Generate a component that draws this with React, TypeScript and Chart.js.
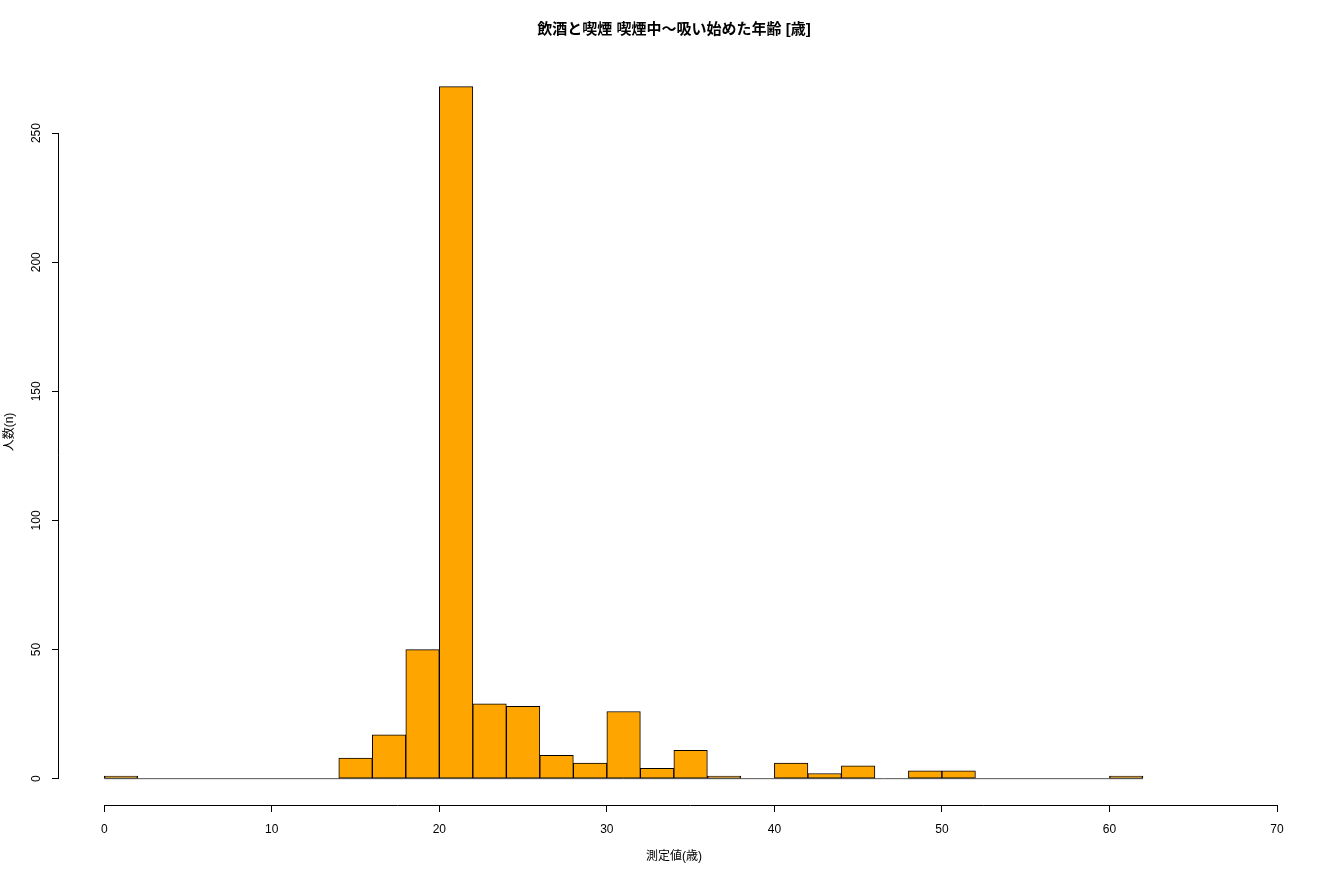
import React, { useEffect, useRef } from "react";
import { Chart, registerables } from "chart.js";

Chart.register(...registerables);

const FONT = "'Liberation Sans', 'Noto Sans CJK JP', sans-serif";

const binStarts = [0, 2, 4, 6, 8, 10, 12, 14, 16, 18, 20, 22, 24, 26, 28, 30, 32, 34, 36, 38, 40, 42, 44, 46, 48, 50, 52, 54, 56, 58, 60];
const binWidth = 2;
const counts = [1, 0, 0, 0, 0, 0, 0, 8, 17, 50, 268, 29, 28, 9, 6, 26, 4, 11, 1, 0, 6, 2, 5, 0, 3, 3, 0, 0, 0, 0, 1];
const xTicks = [0, 10, 20, 30, 40, 50, 60, 70];
const yTicks = [0, 50, 100, 150, 200, 250];
const titleText = "飲酒と喫煙 喫煙中〜吸い始めた年齢 [歳]";
const xTitle = "測定値(歳)";
const yTitle = "人数(n)";

const decor = {
  id: "decor",
  afterDraw(chart: any) {
    const { ctx, chartArea, scales } = chart;
    const x = scales.x;
    const y = scales.y;
    ctx.save();
    ctx.strokeStyle = "#000";
    ctx.lineWidth = 1;
    ctx.beginPath();
    const yb = Math.round(chartArea.bottom) + 0.5;
    ctx.moveTo(x.getPixelForValue(xTicks[0]), yb);
    ctx.lineTo(x.getPixelForValue(xTicks[xTicks.length - 1]), yb);
    const xl = Math.round(chartArea.left) - 0.5;
    ctx.moveTo(xl, y.getPixelForValue(yTicks[0]));
    ctx.lineTo(xl, y.getPixelForValue(yTicks[yTicks.length - 1]));
    ctx.stroke();

    ctx.fillStyle = "#000";
    ctx.font = "12px " + FONT;
    ctx.textAlign = "center";
    ctx.textBaseline = "middle";
    yTicks.forEach((v) => {
      ctx.save();
      ctx.translate(chartArea.left - 22, y.getPixelForValue(v));
      ctx.rotate(-Math.PI / 2);
      ctx.fillText(String(v), 0, 0);
      ctx.restore();
    });

    const cx = 674;
    ctx.font = "bold 15px " + FONT;
    ctx.fillText(titleText, cx, 30);
    ctx.font = "12px " + FONT;
    ctx.fillText(xTitle, cx, 857);
    ctx.save();
    ctx.translate(10, (chartArea.top + chartArea.bottom) / 2);
    ctx.rotate(-Math.PI / 2);
    ctx.fillText(yTitle, 0, 0);
    ctx.restore();
    ctx.restore();
  },
};

export default function App() {
  const ref = useRef<HTMLCanvasElement | null>(null);
  useEffect(() => {
    if (!ref.current) return;
    const barData = binStarts.map((s, i) => ({ x: s + binWidth / 2, y: counts[i] }));
    const zeroLine = [
      { x: binStarts[0], y: 0 },
      { x: binStarts[binStarts.length - 1] + binWidth, y: 0 },
    ];
    const chart = new Chart(ref.current, {
      type: "bar",
      data: {
        datasets: [
          {
            type: "line",
            data: zeroLine,
            borderColor: "#555",
            borderWidth: 1,
            pointRadius: 0,
            order: 2,
          } as any,
          {
            type: "bar",
            data: barData,
            backgroundColor: "#FFA500",
            borderColor: "#000",
            borderWidth: 1,
            borderSkipped: false,
            barPercentage: 1,
            categoryPercentage: 1,
            order: 1,
          } as any,
        ],
      },
      options: {
        animation: false,
        responsive: false,
        devicePixelRatio: 1,
        layout: { padding: { top: 59, right: 43, left: 0, bottom: 0 } },
        plugins: { legend: { display: false }, tooltip: { enabled: false }, title: { display: false } },
        scales: {
          x: {
            type: "linear",
            min: -2.7,
            max: 70,
            offset: false,
            afterBuildTicks: (s: any) => {
              s.ticks = xTicks.map((v) => ({ value: v }));
            },
            afterFit: (s: any) => {
              s.height = 75;
            },
            grid: { display: true, drawOnChartArea: false, drawTicks: true, tickLength: 7, color: "#000", offset: false },
            border: { display: false },
            ticks: {
              color: "#000",
              font: { family: FONT, size: 12 },
              padding: 10,
              maxRotation: 0,
              autoSkip: false,
            },
          },
          y: {
            type: "linear",
            min: -10.2,
            max: 278.7,
            afterBuildTicks: (s: any) => {
              s.ticks = yTicks.map((v) => ({ value: v }));
            },
            afterFit: (s: any) => {
              s.width = 59;
            },
            grid: { display: true, drawOnChartArea: false, drawTicks: true, tickLength: 7, color: "#000" },
            border: { display: false },
            ticks: { display: false },
          },
        },
      },
      plugins: [decor],
    } as any);
    return () => chart.destroy();
  }, []);
  return (
    <div style={{ position: "absolute", left: 0, top: 0, width: 1320, height: 880, background: "#fff" }}>
      <canvas ref={ref} width={1320} height={880} style={{ width: 1320, height: 880 }} />
    </div>
  );
}
